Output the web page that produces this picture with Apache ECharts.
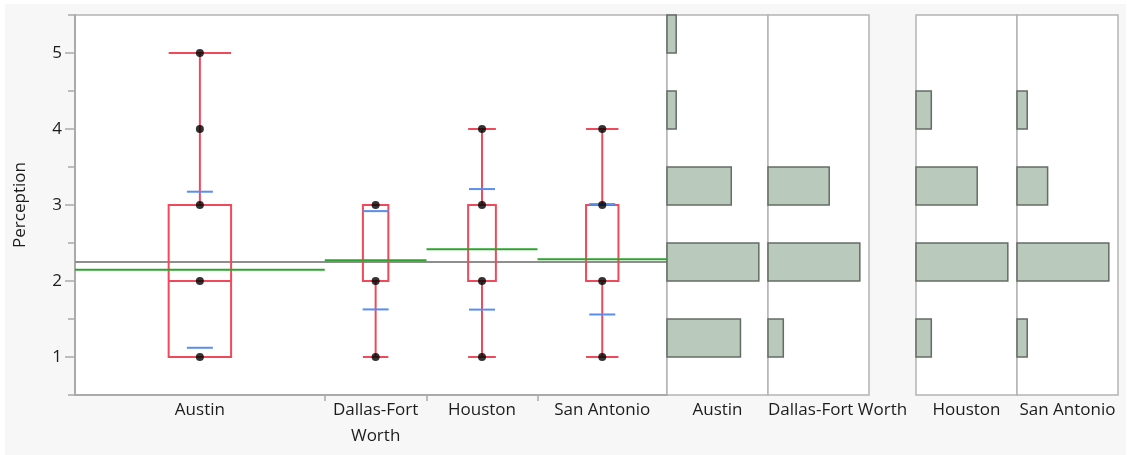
<!DOCTYPE html>
<html>
<head>
<meta charset="utf-8">
<script src="https://cdn.jsdelivr.net/npm/echarts@6/dist/echarts.min.js"></script>
<style>
  html, body { margin: 0; padding: 0; background: #fff; }
  #chart { width: 1128px; height: 455px; }
</style>
</head>
<body>
<div id="chart"></div>
<script>
// Perception ratings (1-5) by metro area: counts of responses at each level
const groups = ['Austin', 'Dallas-Fort Worth', 'Houston', 'San Antonio'];
const mainAxisLabels = ['Austin', 'Dallas-Fort\nWorth', 'Houston', 'San Antonio'];
const ratingLevels = [1, 2, 3, 4, 5];
const austinCounts = [8, 10, 7, 1, 1];
const dallasCounts = [1, 6, 4, 0, 0];
const houstonCounts = [1, 6, 4, 1, 0];
const sanAntonioCounts = [1, 9, 3, 1, 0];
const yTickValues = [1, 2, 3, 4, 5];
const yMinorTickValues = [0.5, 1.5, 2.5, 3.5, 4.5, 5.5];
const binWidth = 0.5;

const groupCounts = [austinCounts, dallasCounts, houstonCounts, sanAntonioCounts];

// ---- summary statistics per group ----
function expand(counts) {
  const vals = [];
  counts.forEach((c, i) => { for (let k = 0; k < c; k++) vals.push(ratingLevels[i]); });
  return vals;
}
function quantile(sorted, p) {
  const n = sorted.length;
  const pos = p * (n + 1);
  if (pos <= 1) return sorted[0];
  if (pos >= n) return sorted[n - 1];
  const lo = Math.floor(pos), frac = pos - lo;
  return sorted[lo - 1] + frac * (sorted[lo] - sorted[lo - 1]);
}
let cum = 0;
const stats = groupCounts.map((counts, gi) => {
  const vals = expand(counts);
  const n = vals.length;
  const mean = vals.reduce((a, b) => a + b, 0) / n;
  const sd = Math.sqrt(vals.reduce((a, v) => a + (v - mean) * (v - mean), 0) / (n - 1));
  const q1 = quantile(vals, 0.25), med = quantile(vals, 0.5), q3 = quantile(vals, 0.75);
  const iqr = q3 - q1;
  const lo = Math.min(...vals.filter(v => v >= q1 - 1.5 * iqr));
  const hi = Math.max(...vals.filter(v => v <= q3 + 1.5 * iqr));
  const x0 = cum, x1 = cum + n;
  cum += n;
  return { name: groups[gi], counts, vals, n, mean, sd, q1, med, q3, lo, hi, x0, x1, cx: (x0 + x1) / 2 };
});
const totalN = cum;
const grandMean = stats.reduce((a, s) => a + s.mean * s.n, 0) / totalN;

// ---- styling ----
const FONT = 'Open Sans';
const FONT_SIZE = 17;
const TXT = '#1c1c1c';
const AXIS = '#aaaaaa';
const BOX_RED = '#ef4a5c';
const SD_BLUE = '#5b8cf0';
const MEAN_GREEN = '#2ea32e';
const GRAND_GRAY = '#8e8e8e';
const HIST_FILL = '#b9c9bb';
const HIST_STROKE = '#646c64';
const FRAME = '#b4b4b4';

const PLOT_TOP = 15, PLOT_H = 380;
const histLefts = [667, 768, 916, 1017];
const HIST_W = 101;

// text width, used to left-align panel captions wider than their panel
const measureCtx = document.createElement('canvas').getContext('2d');
measureCtx.font = FONT_SIZE + 'px "' + FONT + '"';
const textWidth = s => measureCtx.measureText(s).width;

// ---- renderers ----
function renderBox(params, api) {
  const x0 = api.value(0), x1 = api.value(1);
  const q1 = api.value(2), med = api.value(3), q3 = api.value(4), lo = api.value(5), hi = api.value(6);
  const cx = (x0 + x1) / 2, half = (x1 - x0) * 0.125;
  const pL = api.coord([cx - half, q3]);
  const pR = api.coord([cx + half, q1]);
  const pMed = api.coord([cx, med]);
  const pLo = api.coord([cx, lo]);
  const pHi = api.coord([cx, hi]);
  const L = pL[0], R = pR[0], C = pMed[0];
  const st = { stroke: BOX_RED, lineWidth: 2, fill: null };
  const children = [
    { type: 'rect', shape: { x: L, y: pL[1], width: R - L, height: pR[1] - pL[1] }, style: st },
    { type: 'line', shape: { x1: L, y1: pMed[1], x2: R, y2: pMed[1] }, style: st }
  ];
  if (hi > q3) {
    children.push({ type: 'line', shape: { x1: C, y1: pL[1], x2: C, y2: pHi[1] }, style: st });
    children.push({ type: 'line', shape: { x1: L, y1: pHi[1], x2: R, y2: pHi[1] }, style: st });
  }
  if (lo < q1) {
    children.push({ type: 'line', shape: { x1: C, y1: pR[1], x2: C, y2: pLo[1] }, style: st });
    children.push({ type: 'line', shape: { x1: L, y1: pLo[1], x2: R, y2: pLo[1] }, style: st });
  }
  return { type: 'group', children };
}

function makeHLineRenderer(color, width) {
  return function (params, api) {
    const a = api.coord([api.value(0), api.value(2)]);
    const b = api.coord([api.value(1), api.value(2)]);
    return { type: 'line', shape: { x1: a[0], y1: a[1], x2: b[0], y2: b[1] },
             style: { stroke: color, lineWidth: width } };
  };
}

function renderSd(params, api) {
  const c = api.value(0);
  const a = api.coord([c, api.value(1)]);
  const b = api.coord([c, api.value(2)]);
  const hw = 13;
  const st = { stroke: SD_BLUE, lineWidth: 2 };
  return { type: 'group', children: [
    { type: 'line', shape: { x1: a[0] - hw, y1: a[1], x2: a[0] + hw, y2: a[1] }, style: st },
    { type: 'line', shape: { x1: b[0] - hw, y1: b[1], x2: b[0] + hw, y2: b[1] }, style: st }
  ]};
}

function renderHistBar(params, api) {
  const level = api.value(0), count = api.value(1);
  const a = api.coord([0, level + binWidth]);
  const b = api.coord([count, level]);
  return { type: 'rect', shape: { x: a[0], y: a[1], width: b[0] - a[0], height: b[1] - a[1] },
           style: { fill: HIST_FILL, stroke: HIST_STROKE, lineWidth: 1.5 } };
}

// ---- grids & axes ----
const gridBase = { top: PLOT_TOP, height: PLOT_H, show: true, backgroundColor: '#fff',
                   borderColor: FRAME, borderWidth: 1.5, containLabel: false, outerBoundsMode: 'none' };
const grids = [Object.assign({ left: 75, width: 592 }, gridBase)];
histLefts.forEach(l => grids.push(Object.assign({ left: l, width: HIST_W }, gridBase)));

const labelStyle = { color: TXT, fontFamily: FONT, fontSize: FONT_SIZE };

const xAxes = [{
  type: 'value', gridIndex: 0, min: 0, max: totalN,
  axisLine: { show: true, lineStyle: { color: AXIS, width: 2 } },
  axisTick: { show: true, customValues: stats.slice(1).map(s => s.x0), length: 6, lineStyle: { color: AXIS, width: 1.5 } },
  axisLabel: Object.assign({
    show: true, customValues: stats.map(s => s.cx), margin: 2, lineHeight: 26,
    formatter: v => { const i = stats.findIndex(s => Math.abs(s.cx - v) < 1e-6); return i >= 0 ? mainAxisLabels[i] : ''; }
  }, labelStyle),
  splitLine: { show: false }
}];
stats.forEach((s, i) => {
  const maxC = Math.max(...s.counts);
  const axMax = maxC * 1.1;
  const wide = textWidth(s.name) > HIST_W;
  xAxes.push({
    type: 'value', gridIndex: i + 1, min: 0, max: axMax,
    axisLine: { show: false }, axisTick: { show: false }, splitLine: { show: false },
    axisLabel: Object.assign({
      show: true, customValues: [wide ? 0 : axMax / 2], align: wide ? 'left' : 'center',
      margin: 5, lineHeight: 20, formatter: () => s.name
    }, labelStyle)
  });
});

const yAxes = [
  {
    type: 'value', gridIndex: 0, min: 0.5, max: 5.5,
    name: 'Perception', nameLocation: 'middle', nameGap: 46, nameTextStyle: labelStyle,
    axisLine: { show: true, lineStyle: { color: AXIS, width: 2 } },
    axisTick: { show: true, customValues: yTickValues, length: 10, lineStyle: { color: AXIS, width: 1.5 } },
    axisLabel: Object.assign({ show: true, customValues: yTickValues, margin: 13 }, labelStyle),
    splitLine: { show: false }
  },
  {
    type: 'value', gridIndex: 0, min: 0.5, max: 5.5, position: 'left', offset: 0,
    axisLine: { show: false },
    axisTick: { show: true, customValues: yMinorTickValues, length: 7, lineStyle: { color: AXIS, width: 1.5 } },
    axisLabel: { show: false }, splitLine: { show: false }
  }
];
stats.forEach((s, i) => yAxes.push({ type: 'value', gridIndex: i + 1, min: 0.5, max: 5.5, show: false }));

// ---- series ----
const series = [
  { type: 'custom', name: 'grand mean', xAxisIndex: 0, yAxisIndex: 0, z: 2,
    renderItem: makeHLineRenderer(GRAND_GRAY, 2), encode: { x: [0, 1], y: 2 },
    data: [[0, totalN, grandMean]] },
  { type: 'custom', name: 'box', xAxisIndex: 0, yAxisIndex: 0, z: 3,
    renderItem: renderBox, encode: { x: [0, 1], y: [2, 3, 4, 5, 6] },
    data: stats.map(s => [s.x0, s.x1, s.q1, s.med, s.q3, s.lo, s.hi]) },
  { type: 'custom', name: 'group mean', xAxisIndex: 0, yAxisIndex: 0, z: 4,
    renderItem: makeHLineRenderer(MEAN_GREEN, 2), encode: { x: [0, 1], y: 2 },
    data: stats.map(s => [s.x0, s.x1, s.mean]) },
  { type: 'custom', name: 'std dev', xAxisIndex: 0, yAxisIndex: 0, z: 5,
    renderItem: renderSd, encode: { x: 0, y: [1, 2] },
    data: stats.map(s => [s.cx, s.mean - s.sd, s.mean + s.sd]) },
  { type: 'scatter', name: 'points', xAxisIndex: 0, yAxisIndex: 0, z: 6,
    symbolSize: 8, itemStyle: { color: '#000' },
    data: stats.flatMap(s => ratingLevels.filter((lv, i) => s.counts[i] > 0).map(lv => [s.cx, lv])) }
];
stats.forEach((s, i) => series.push({
  type: 'custom', name: s.name + ' histogram', xAxisIndex: i + 1, yAxisIndex: i + 2,
  renderItem: renderHistBar, encode: { x: 1, y: 0 },
  data: ratingLevels.map((lv, k) => [lv, s.counts[k]]).filter(d => d[1] > 0)
}));

const chart = echarts.init(document.getElementById('chart'), null, { renderer: 'canvas' });
chart.setOption({
  animation: false,
  backgroundColor: '#fff',
  graphic: [{ type: 'rect', z: -10, shape: { x: 5, y: 4, width: 1121, height: 451 }, style: { fill: '#f7f7f7' } }],
  grid: grids,
  xAxis: xAxes,
  yAxis: yAxes,
  series
});
</script>
</body>
</html>
